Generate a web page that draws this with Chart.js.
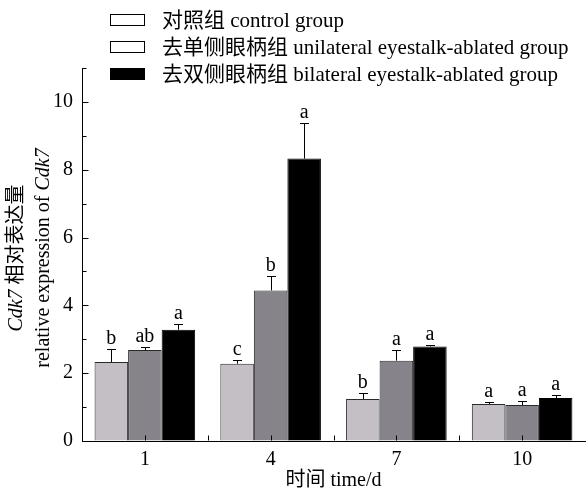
<!DOCTYPE html>
<html><head><meta charset="utf-8">
<script src="https://cdn.jsdelivr.net/npm/chart.js@4"></script>
<style>html,body{margin:0;padding:0;background:#fff}#wrap{width:587px;height:493px}</style>
</head><body><div id="wrap"><canvas id="c" width="587" height="493"></canvas></div>
<script>
const categories = ['1', '4', '7', '10'];
const seriesNames = ['对照组 control group', '去单侧眼柄组 unilateral eyestalk-ablated group', '去双侧眼柄组 bilateral eyestalk-ablated group'];
const controlMean = [2.33, 2.28, 1.24, 1.09];
const controlErr = [0.38, 0.12, 0.19, 0.06];
const uniMean = [2.68, 4.44, 2.37, 1.06];
const uniErr = [0.09, 0.44, 0.31, 0.13];
const biMean = [3.28, 8.33, 2.79, 1.27];
const biErr = [0.16, 1.04, 0.03, 0.08];
const controlLetters = ['b', 'c', 'b', 'a'];
const uniLetters = ['ab', 'b', 'a', 'a'];
const biLetters = ['a', 'a', 'a', 'a'];
const yTicks = [0, 2, 4, 6, 8, 10];
const xTitle = '时间 time/d';
const yTitle1 = [{t: 'Cdk7', i: true}, {t: ' 相对表达量', i: false}];
const yTitle2 = [{t: 'relative expression of ', i: false}, {t: 'Cdk7', i: true}];

const FAM = '"Liberation Serif", "Times New Roman", "Noto Sans CJK SC", serif';
const errs = [controlErr, uniErr, biErr];
const letters = [controlLetters, uniLetters, biLetters];

const extras = {
  id: 'extras',
  afterDatasetsDraw(chart) {
    const ctx = chart.ctx;
    const y = chart.scales.y, x = chart.scales.x;
    const ca = chart.chartArea;
    ctx.save();
    ctx.strokeStyle = '#000';
    ctx.lineWidth = 1;
    ctx.fillStyle = '#000';
    ctx.font = '20px ' + FAM;
    ctx.textAlign = 'center';
    ctx.textBaseline = 'alphabetic';
    chart.data.datasets.forEach((ds, di) => {
      const meta = chart.getDatasetMeta(di);
      meta.data.forEach((el, j) => {
        const top = y.getPixelForValue(ds.data[j] + errs[di][j]);
        const cx = Math.round(el.x) + 0.5;
        const t = Math.round(top) + 0.5;
        ctx.beginPath();
        ctx.moveTo(cx, el.y);
        ctx.lineTo(cx, t);
        ctx.moveTo(cx - 4.5, t);
        ctx.lineTo(cx + 4.5, t);
        ctx.stroke();
        ctx.fillText(letters[di][j], el.x, top - 5);
      });
    });
    // inward ticks on y axis
    const ax = Math.round(ca.left) + 0.5;
    for (let v = 0; v <= 11; v++) {
      const py = Math.round(y.getPixelForValue(v)) + 0.5;
      const len = (v % 2 === 0) ? 6 : 4;
      ctx.beginPath();
      ctx.moveTo(ax, py);
      ctx.lineTo(ax + len, py);
      ctx.stroke();
    }
    // inward ticks on x axis
    const ay = Math.round(ca.bottom) - 0.5;
    const n = categories.length;
    for (let i = 0; i < n; i++) {
      const px = Math.round(x.getPixelForTick(i)) + 0.5;
      ctx.beginPath();
      ctx.moveTo(px, ay);
      ctx.lineTo(px, ay - 5);
      ctx.stroke();
      if (i < n - 1) {
        const mx = Math.round((x.getPixelForTick(i) + x.getPixelForTick(i + 1)) / 2) + 0.5;
        ctx.beginPath();
        ctx.moveTo(mx, ay);
        ctx.lineTo(mx, ay - 5);
        ctx.stroke();
      }
    }
    ctx.restore();
  },
  afterDraw(chart) {
    const ctx = chart.ctx;
    ctx.save();
    // legend
    const rows = [20, 47, 74];
    ctx.font = '21px ' + FAM;
    ctx.textAlign = 'left';
    ctx.textBaseline = 'middle';
    chart.data.datasets.forEach((ds, i) => {
      const cy = rows[i];
      ctx.fillStyle = ds.legendFill;
      ctx.fillRect(110, cy - 6, 35, 12);
      ctx.strokeStyle = '#000';
      ctx.lineWidth = 1;
      ctx.strokeRect(110.5, cy - 5.5, 34, 11);
      ctx.fillStyle = '#000';
      ctx.fillText(ds.label, 162, cy + 1);
    });
    // y title
    const drawRot = (parts, cx, cy) => {
      ctx.save();
      ctx.translate(cx, cy);
      ctx.rotate(-Math.PI / 2);
      ctx.textBaseline = 'middle';
      ctx.textAlign = 'left';
      let w = 0;
      parts.forEach(p => { ctx.font = (p.i ? 'italic ' : '') + '20px ' + FAM; w += ctx.measureText(p.t).width; });
      let sx = -w / 2;
      parts.forEach(p => {
        ctx.font = (p.i ? 'italic ' : '') + '20px ' + FAM;
        ctx.fillStyle = '#000';
        ctx.fillText(p.t, sx, 0);
        sx += ctx.measureText(p.t).width;
      });
      ctx.restore();
    };
    drawRot(yTitle1, 17, 258);
    drawRot(yTitle2, 44, 258);
    ctx.restore();
  }
};

new Chart(document.getElementById('c'), {
  type: 'bar',
  data: {
    labels: categories,
    datasets: [
      {label: seriesNames[0], data: controlMean, backgroundColor: '#c4bfc5', borderColor: '#2a2a2a', borderWidth: 1, legendFill: '#ffffff'},
      {label: seriesNames[1], data: uniMean, backgroundColor: '#86838a', borderColor: '#2a2a2a', borderWidth: 1, legendFill: '#ffffff'},
      {label: seriesNames[2], data: biMean, backgroundColor: '#000000', borderColor: '#000000', borderWidth: 1, legendFill: '#000000'}
    ]
  },
  options: {
    responsive: false,
    animation: false,
    devicePixelRatio: 1,
    categoryPercentage: 0.8,
    barPercentage: 1.0,
    layout: {padding: {top: 68, right: 2, left: 0, bottom: 0}},
    plugins: {legend: {display: false}, title: {display: false}, tooltip: {enabled: false}},
    scales: {
      x: {
        type: 'category',
        offset: true,
        grid: {display: true, drawOnChartArea: false, drawTicks: false, color: 'rgba(0,0,0,0)'},
        border: {display: true, color: '#000', width: 1},
        ticks: {font: {family: FAM, size: 20}, color: '#000', padding: 7},
        title: {display: true, text: xTitle, font: {family: FAM, size: 20}, color: '#000', padding: {top: 0, bottom: 0}},
        afterFit: s => { s.height = 52; }
      },
      y: {
        min: 0, max: 11,
        grid: {display: true, drawOnChartArea: false, drawTicks: false, color: 'rgba(0,0,0,0)'},
        border: {display: true, color: '#000', width: 1},
        ticks: {font: {family: FAM, size: 20}, color: '#000', padding: 9},
        afterBuildTicks: s => { s.ticks = yTicks.map(v => ({value: v})); },
        afterFit: s => { s.width = 82; }
      }
    }
  },
  plugins: [extras]
});
</script>
</body></html>
